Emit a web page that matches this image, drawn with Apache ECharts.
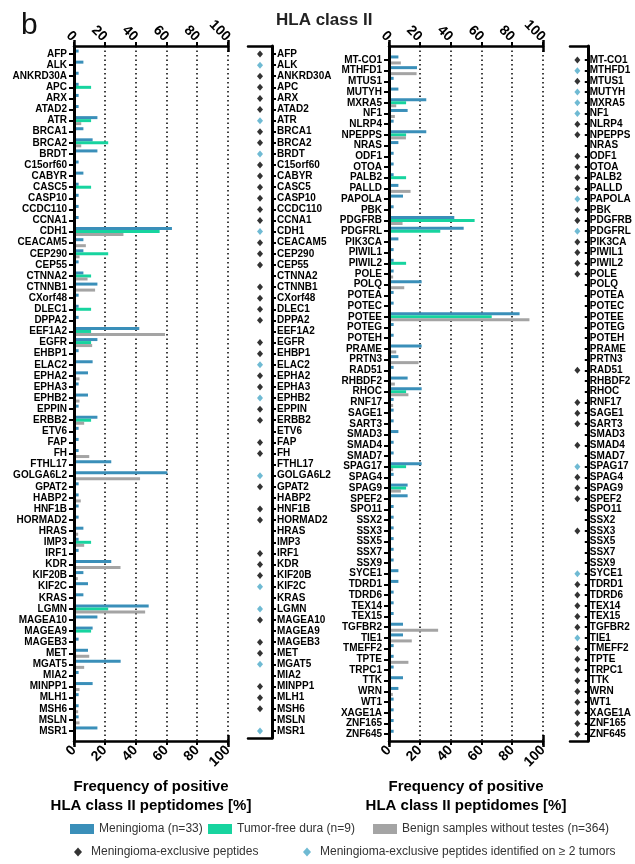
<!DOCTYPE html>
<html>
<head>
<meta charset="utf-8">
<script src="https://cdn.jsdelivr.net/npm/echarts@6/dist/echarts.min.js"></script>
<style>
  html, body { margin: 0; padding: 0; background: #fff; }
  #chart { width: 635px; height: 864px; }
</style>
</head>
<body>
<div id="chart"></div>
<script>
const FONT = '"Liberation Sans", Arial, Helvetica, sans-serif';

// ---- data: left block ----
const leftGenes = ['AFP','ALK','ANKRD30A','APC','ARX','ATAD2','ATR','BRCA1','BRCA2','BRDT',
  'C15orf60','CABYR','CASC5','CASP10','CCDC110','CCNA1','CDH1','CEACAM5','CEP290','CEP55',
  'CTNNA2','CTNNB1','CXorf48','DLEC1','DPPA2','EEF1A2','EGFR','EHBP1','ELAC2','EPHA2',
  'EPHA3','EPHB2','EPPIN','ERBB2','ETV6','FAP','FH','FTHL17','GOLGA6L2','GPAT2',
  'HABP2','HNF1B','HORMAD2','HRAS','IMP3','IRF1','KDR','KIF20B','KIF2C','KRAS',
  'LGMN','MAGEA10','MAGEA9','MAGEB3','MET','MGAT5','MIA2','MINPP1','MLH1','MSH6',
  'MSLN','MSR1'];
const leftMeningioma = [
  3.0, 6.1, 3.0, 3.0, 3.0, 3.0, 15.2, 6.1, 12.1, 15.2,
  3.0, 6.1, 3.0, 3.0, 3.0, 3.0, 63.6, 6.1, 6.1, 3.0,
  6.1, 15.2, 3.0, 3.0, 3.0, 42.4, 15.2, 3.0, 12.1, 9.1,
  3.0, 9.1, 3.0, 15.2, 3.0, 3.0, 3.0, 24.2, 60.6, 3.0,
  3.0, 3.0, 3.0, 6.1, 3.0, 3.0, 24.2, 6.1, 9.1, 6.1,
  48.5, 15.2, 12.1, 3.0, 9.1, 30.3, 3.0, 12.1, 3.0, 3.0,
  3.0, 15.2];
const leftDura = [
  0, 0, 0, 11.1, 0, 0, 11.1, 0, 22.2, 0,
  0, 0, 11.1, 0, 0, 0, 55.6, 0, 22.2, 0,
  11.1, 0, 0, 11.1, 0, 11.1, 11.1, 0, 0, 0,
  0, 0, 0, 11.1, 0, 0, 0, 0, 0, 0,
  0, 0, 0, 0, 11.1, 0, 0, 0, 0, 0,
  22.2, 0, 11.1, 0, 0, 0, 0, 0, 0, 0,
  0, 0];
const leftBenign = [
  0.8, 0, 0.5, 0, 0, 1.0, 4.7, 0, 4.7, 0,
  0, 0, 0, 0, 0, 0, 32.1, 7.7, 3.6, 0,
  8.8, 13.7, 0, 1.1, 0, 59.1, 11.8, 0, 0, 3.6,
  1.1, 3.6, 0, 6.6, 0, 0, 9.9, 1.1, 42.9, 0,
  4.4, 0, 0, 2.7, 6.6, 0, 30.2, 2.5, 0, 1.1,
  46.2, 0, 0, 0, 9.9, 6.6, 0, 3.6, 1.1, 2.7,
  3.6, 0];
const leftExclusive = ['AFP','ANKRD30A','APC','ARX','ATAD2','BRCA1','BRCA2','C15orf60','CABYR',
  'CASC5','CASP10','CCDC110','CCNA1','CEACAM5','CEP290','CEP55','CTNNB1','CXorf48','DLEC1',
  'DPPA2','EGFR','EHBP1','EPHA2','EPHA3','EPPIN','ERBB2','FAP','FH','GPAT2','HNF1B','HORMAD2',
  'IRF1','KDR','KIF20B','MAGEA10','MAGEB3','MET','MINPP1','MLH1','MSH6'];
const leftRecurrent = ['ALK','ATR','BRDT','CDH1','ELAC2','EPHB2','GOLGA6L2','KIF2C','LGMN','MGAT5','MSR1'];

// ---- data: right block ----
const rightGenes = ['MT-CO1','MTHFD1','MTUS1','MUTYH','MXRA5','NF1','NLRP4','NPEPPS','NRAS','ODF1',
  'OTOA','PALB2','PALLD','PAPOLA','PBK','PDGFRB','PDGFRL','PIK3CA','PIWIL1','PIWIL2',
  'POLE','POLQ','POTEA','POTEC','POTEE','POTEG','POTEH','PRAME','PRTN3','RAD51',
  'RHBDF2','RHOC','RNF17','SAGE1','SART3','SMAD3','SMAD4','SMAD7','SPAG17','SPAG4',
  'SPAG9','SPEF2','SPO11','SSX2','SSX3','SSX5','SSX7','SSX9','SYCE1','TDRD1',
  'TDRD6','TEX14','TEX15','TGFBR2','TIE1','TMEFF2','TPTE','TRPC1','TTK','WRN',
  'WT1','XAGE1A','ZNF165','ZNF645'];
const rightMeningioma = [
  6.1, 18.2, 3.0, 6.1, 24.2, 12.1, 3.0, 24.2, 6.1, 3.0,
  3.0, 3.0, 6.1, 9.1, 3.0, 42.4, 48.5, 6.1, 3.0, 3.0,
  3.0, 21.2, 3.0, 3.0, 84.8, 3.0, 3.0, 21.2, 6.1, 3.0,
  12.1, 21.2, 3.0, 3.0, 3.0, 6.1, 3.0, 3.0, 21.2, 3.0,
  12.1, 12.1, 3.0, 3.0, 3.0, 3.0, 3.0, 3.0, 6.1, 6.1,
  3.0, 3.0, 3.0, 9.1, 9.1, 3.0, 3.0, 3.0, 9.1, 6.1,
  3.0, 3.0, 3.0, 3.0];
const rightDura = [
  0, 0, 0, 0, 11.1, 0, 0, 11.1, 0, 0,
  0, 11.1, 0, 0, 0, 55.6, 33.3, 0, 0, 11.1,
  0, 0, 0, 0, 66.7, 0, 0, 0, 0, 0,
  0, 11.1, 0, 0, 0, 0, 0, 0, 11.1, 0,
  11.1, 0, 0, 0, 0, 0, 0, 0, 0, 0,
  0, 0, 0, 0, 0, 0, 0, 0, 0, 0,
  0, 0, 0, 0];
const rightBenign = [
  7.7, 17.9, 0, 0, 4.7, 3.8, 0, 11.0, 1.1, 0,
  0, 0, 14.0, 0, 0, 8.8, 1.1, 1.1, 0, 0,
  2.7, 9.9, 0, 0, 91.2, 0, 0, 4.7, 19.2, 0,
  3.8, 12.6, 2.7, 1.1, 0, 0, 0, 0, 2.7, 0,
  7.7, 1.1, 0, 0, 0, 0, 0, 0, 0, 0,
  1.1, 0, 0, 31.9, 14.8, 0, 12.6, 0, 0, 2.5,
  1.1, 0, 0, 0];
const rightExclusive = ['MT-CO1','MTUS1','NLRP4','NPEPPS','ODF1','OTOA','PALB2','PALLD','PBK',
  'PDGFRB','PIK3CA','PIWIL1','PIWIL2','POLE','RAD51','RNF17','SAGE1','SART3','SMAD4','SPAG4',
  'SPAG9','SPEF2','SSX3','TDRD1','TDRD6','TEX14','TEX15','TGFBR2','TMEFF2','TPTE','TRPC1',
  'TTK','WRN','WT1','XAGE1A','ZNF165','ZNF645'];
const rightRecurrent = ['MTHFD1','MUTYH','MXRA5','NF1','PAPOLA','PDGFRL','SPAG17','SYCE1','TIE1'];

const valueTicks = [0, 20, 40, 60, 80, 100];

// ---- names & styles ----
const S_MEN = 'Meningioma (n=33)';
const S_DURA = 'Tumor-free dura (n=9)';
const S_BEN = 'Benign samples without testes (n=364)';
const S_EXCL = 'Meningioma-exclusive peptides';
const S_REC = 'Meningioma-exclusive peptides identified on \u2265 2 tumors';
const C_MEN = '#3a8fb9';
const C_DURA = '#17d49f';
const C_BEN = '#a4a4a4';
const C_REC = '#4ba9c8';
const AXIS_TITLE = 'Frequency of positive\nHLA class II peptidomes [%]';

const grid = [], xAxis = [], yAxis = [], series = [];
const addGrid = g => (grid.push(g), grid.length - 1);
const addX = a => (xAxis.push(a), xAxis.length - 1);
const addY = a => (yAxis.push(a), yAxis.length - 1);

const black = { color: '#000' };
const boldLabel = { fontFamily: FONT, fontWeight: 'bold', color: '#000' };
const noSplit = { show: false };

function valueAxisBase(gridIndex) {
  return {
    type: 'value', gridIndex,
    min: valueTicks[0], max: valueTicks[valueTicks.length - 1],
    interval: valueTicks[1] - valueTicks[0]
  };
}

function barPanel(left, frame, cats, genes, men, dura, benign) {
  const gF = addGrid({ left, top: frame.top, width: 154, height: frame.height });
  const gC = addGrid({ left, top: cats.top, width: 154, height: cats.height });

  // top scale with dotted vertical grid
  addX(Object.assign(valueAxisBase(gF), {
    position: 'top',
    axisLine: { show: true, onZero: false, lineStyle: Object.assign({ width: 2.5 }, black) },
    axisTick: { show: true, length: 4, lineStyle: Object.assign({ width: 2 }, black) },
    axisLabel: Object.assign({ rotate: 45, margin: 7, fontSize: 14 }, boldLabel),
    splitLine: { show: true, lineStyle: { type: [1.5, 3], color: '#000', width: 1.5 } }
  }));
  // bottom scale with title
  addX(Object.assign(valueAxisBase(gF), {
    position: 'bottom',
    axisLine: { show: true, onZero: false, lineStyle: Object.assign({ width: 2.5 }, black) },
    axisTick: { show: true, length: 4, lineStyle: Object.assign({ width: 2 }, black) },
    axisLabel: Object.assign({ rotate: 45, margin: 7, fontSize: 14 }, boldLabel),
    splitLine: noSplit,
    name: AXIS_TITLE, nameLocation: 'middle', nameGap: 36,
    nameTextStyle: Object.assign({ fontSize: 15, lineHeight: 19, align: 'center' }, boldLabel)
  }));
  // end caps on both scales
  ['top', 'bottom'].forEach(pos => {
    [true, false].forEach(inside => {
      addX(Object.assign(valueAxisBase(gF), {
        position: pos, interval: 100,
        axisLine: { show: false, onZero: false },
        axisTick: { show: true, inside, length: 6, lineStyle: Object.assign({ width: 2.5 }, black) },
        axisLabel: { show: false }, splitLine: noSplit
      }));
    });
  });
  addY({
    type: 'value', gridIndex: gF, min: 0, max: 1, z: 5,
    axisLine: { show: true, onZero: false, lineStyle: Object.assign({ width: 3 }, black) },
    axisTick: { show: false }, axisLabel: { show: false }, splitLine: noSplit
  });

  const xb = addX(Object.assign(valueAxisBase(gC), { show: false }));
  const yb = addY({
    type: 'category', gridIndex: gC, inverse: true, data: genes,
    axisLine: { show: false },
    axisTick: { show: true, alignWithLabel: true, interval: 0, length: 5, lineStyle: Object.assign({ width: 2 }, black) },
    axisLabel: Object.assign({ interval: 0, margin: 7, fontSize: 10 }, boldLabel),
    splitLine: noSplit
  });
  [[S_MEN, men, C_MEN], [S_DURA, dura, C_DURA], [S_BEN, benign, C_BEN]].forEach(([name, data, color]) => {
    series.push({
      type: 'bar', name, data, xAxisIndex: xb, yAxisIndex: yb,
      barWidth: 3, barGap: '0%', itemStyle: { color }, z: 2
    });
  });
}

function markerPanel(left, width, frame, cats, genes, exclusive, recurrent) {
  const gF = addGrid({ left, top: frame.top, width, height: frame.height });
  const gC = addGrid({ left, top: cats.top, width, height: cats.height });
  ['top', 'bottom'].forEach(pos => {
    addX({
      type: 'value', gridIndex: gF, min: 0, max: 1, position: pos,
      axisLine: { show: true, onZero: false, lineStyle: Object.assign({ width: 2.5 }, black) },
      axisTick: { show: false }, axisLabel: { show: false }, splitLine: noSplit
    });
  });
  addY({
    type: 'value', gridIndex: gF, min: 0, max: 1, position: 'right', z: 5,
    axisLine: { show: true, onZero: false, lineStyle: Object.assign({ width: 3 }, black) },
    axisTick: { show: false }, axisLabel: { show: false }, splitLine: noSplit
  });
  const xc = addX({ type: 'category', gridIndex: gC, data: ['peptides'], show: false });
  const yc = addY({
    type: 'category', gridIndex: gC, inverse: true, data: genes, position: 'right',
    axisLine: { show: false },
    axisTick: { show: true, alignWithLabel: true, interval: 0, length: 4, lineStyle: Object.assign({ width: 2 }, black) },
    axisLabel: Object.assign({ interval: 0, margin: 5, fontSize: 10 }, boldLabel),
    splitLine: noSplit
  });
  series.push({
    type: 'scatter', name: S_EXCL, xAxisIndex: xc, yAxisIndex: yc,
    symbol: 'diamond', symbolSize: [6, 7], itemStyle: { color: '#000' },
    data: exclusive.map(g => ['peptides', g])
  });
  series.push({
    type: 'scatter', name: S_REC, xAxisIndex: xc, yAxisIndex: yc,
    symbol: 'diamond', symbolSize: [6, 7], itemStyle: { color: C_REC },
    data: recurrent.map(g => ['peptides', g])
  });
}

// left block: 62 rows, right block: 64 rows
barPanel(74, { top: 46, height: 695 }, { top: 48.5, height: 688 },
  leftGenes, leftMeningioma, leftDura, leftBenign);
markerPanel(248, 24, { top: 46, height: 692 }, { top: 48.5, height: 688 },
  leftGenes, leftExclusive, leftRecurrent);
barPanel(389, { top: 46, height: 695 }, { top: 54.6, height: 685 },
  rightGenes, rightMeningioma, rightDura, rightBenign);
markerPanel(570, 18, { top: 46, height: 695 }, { top: 54.6, height: 685 },
  rightGenes, rightExclusive, rightRecurrent);

const legendText = { fontFamily: FONT, fontSize: 12, color: '#333' };
function legendAt(left, top, name, icon, w, h, textPad) {
  return {
    left, top, padding: 0, itemWidth: w, itemHeight: h, itemGap: 0, selectedMode: false,
    textStyle: Object.assign({ padding: [0, 0, 0, textPad || 0] }, legendText),
    data: [{ name, icon }]
  };
}

const option = {
  animation: false,
  backgroundColor: '#fff',
  title: [
    { text: 'b', left: 16, top: 6, textStyle: { fontFamily: FONT, fontSize: 30, fontWeight: 'normal', color: '#111' } },
    { text: 'HLA class II', left: 271, top: 7, textStyle: { fontFamily: FONT, fontSize: 17, fontWeight: 'bold', color: '#222' } }
  ],
  legend: [
    legendAt(70, 823, S_MEN, 'rect', 24, 10),
    legendAt(208, 823, S_DURA, 'rect', 24, 10),
    legendAt(373, 823, S_BEN, 'rect', 24, 10),
    legendAt(74, 846, S_EXCL, 'diamond', 8, 9, 4),
    legendAt(303, 846, S_REC, 'diamond', 8, 9, 4)
  ],
  grid, xAxis, yAxis, series
};

const chart = echarts.init(document.getElementById('chart'), null, { renderer: 'canvas' });
chart.setOption(option);
</script>
</body>
</html>
